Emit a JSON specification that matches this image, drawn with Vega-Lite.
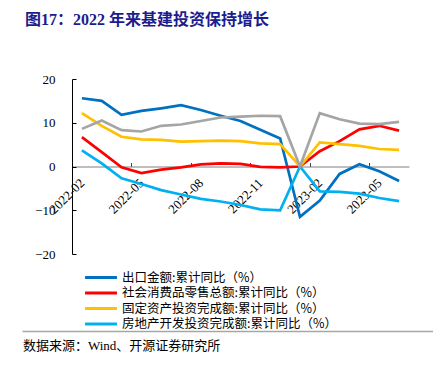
{
  "$schema": "https://vega.github.io/schema/vega-lite/v6.json",
  "background": "white",
  "padding": {"left": 22, "top": 11, "right": 0, "bottom": 0},
  "title": {
    "text": "图17：2022 年来基建投资保持增长",
    "anchor": "start",
    "font": "Liberation Serif, Noto Sans CJK SC",
    "fontSize": 16,
    "fontWeight": "bold",
    "color": "#1c1c8e",
    "dx": 3,
    "offset": 45.4
  },
  "config": {
    "view": {"stroke": null},
    "axis": {"labelFont": "Liberation Serif", "labelFontSize": 13, "labelColor": "#000", "grid": false}
  },
  "spacing": 70,
  "datasets": {
    "macro": [
      {"month": "2022-02", "出口金额:累计同比（%）": 15.6, "社会消费品零售总额:累计同比（%）": 6.7, "固定资产投资完成额:累计同比（%）": 12.2, "房地产开发投资完成额:累计同比（%）": 3.7, "基础设施建设投资:累计同比（%）": 8.6},
      {"month": "2022-03", "出口金额:累计同比（%）": 15.0, "社会消费品零售总额:累计同比（%）": 3.3, "固定资产投资完成额:累计同比（%）": 9.3, "房地产开发投资完成额:累计同比（%）": 0.7, "基础设施建设投资:累计同比（%）": 10.5},
      {"month": "2022-04", "出口金额:累计同比（%）": 11.8, "社会消费品零售总额:累计同比（%）": -0.2, "固定资产投资完成额:累计同比（%）": 6.8, "房地产开发投资完成额:累计同比（%）": -2.7, "基础设施建设投资:累计同比（%）": 8.3},
      {"month": "2022-05", "出口金额:累计同比（%）": 12.7, "社会消费品零售总额:累计同比（%）": -1.5, "固定资产投资完成额:累计同比（%）": 6.2, "房地产开发投资完成额:累计同比（%）": -4.0, "基础设施建设投资:累计同比（%）": 8.0},
      {"month": "2022-06", "出口金额:累计同比（%）": 13.3, "社会消费品零售总额:累计同比（%）": -0.7, "固定资产投资完成额:累计同比（%）": 6.1, "房地产开发投资完成额:累计同比（%）": -5.4, "基础设施建设投资:累计同比（%）": 9.3},
      {"month": "2022-07", "出口金额:累计同比（%）": 14.0, "社会消费品零售总额:累计同比（%）": -0.2, "固定资产投资完成额:累计同比（%）": 5.7, "房地产开发投资完成额:累计同比（%）": -6.4, "基础设施建设投资:累计同比（%）": 9.6},
      {"month": "2022-08", "出口金额:累计同比（%）": 12.9, "社会消费品零售总额:累计同比（%）": 0.5, "固定资产投资完成额:累计同比（%）": 5.8, "房地产开发投资完成额:累计同比（%）": -7.4, "基础设施建设投资:累计同比（%）": 10.4},
      {"month": "2022-09", "出口金额:累计同比（%）": 11.6, "社会消费品零售总额:累计同比（%）": 0.7, "固定资产投资完成额:累计同比（%）": 5.9, "房地产开发投资完成额:累计同比（%）": -8.0, "基础设施建设投资:累计同比（%）": 11.2},
      {"month": "2022-10", "出口金额:累计同比（%）": 10.4, "社会消费品零售总额:累计同比（%）": 0.6, "固定资产投资完成额:累计同比（%）": 5.8, "房地产开发投资完成额:累计同比（%）": -8.8, "基础设施建设投资:累计同比（%）": 11.4},
      {"month": "2022-11", "出口金额:累计同比（%）": 8.4, "社会消费品零售总额:累计同比（%）": -0.1, "固定资产投资完成额:累计同比（%）": 5.3, "房地产开发投资完成额:累计同比（%）": -9.8, "基础设施建设投资:累计同比（%）": 11.6},
      {"month": "2022-12", "出口金额:累计同比（%）": 6.4, "社会消费品零售总额:累计同比（%）": -0.2, "固定资产投资完成额:累计同比（%）": 5.1, "房地产开发投资完成额:累计同比（%）": -10.0, "基础设施建设投资:累计同比（%）": 11.5},
      {"month": "2023-01", "出口金额:累计同比（%）": -11.5, "社会消费品零售总额:累计同比（%）": 0, "固定资产投资完成额:累计同比（%）": 0, "房地产开发投资完成额:累计同比（%）": 0, "基础设施建设投资:累计同比（%）": 0},
      {"month": "2023-02", "出口金额:累计同比（%）": -7.8, "社会消费品零售总额:累计同比（%）": 3.5, "固定资产投资完成额:累计同比（%）": 5.5, "房地产开发投资完成额:累计同比（%）": -5.7, "基础设施建设投资:累计同比（%）": 12.2},
      {"month": "2023-03", "出口金额:累计同比（%）": -1.7, "社会消费品零售总额:累计同比（%）": 5.8, "固定资产投资完成额:累计同比（%）": 5.1, "房地产开发投资完成额:累计同比（%）": -5.8, "基础设施建设投资:累计同比（%）": 10.8},
      {"month": "2023-04", "出口金额:累计同比（%）": 0.5, "社会消费品零售总额:累计同比（%）": 8.5, "固定资产投资完成额:累计同比（%）": 4.7, "房地产开发投资完成额:累计同比（%）": -6.2, "基础设施建设投资:累计同比（%）": 9.8},
      {"month": "2023-05", "出口金额:累计同比（%）": -1.1, "社会消费品零售总额:累计同比（%）": 9.3, "固定资产投资完成额:累计同比（%）": 4.0, "房地产开发投资完成额:累计同比（%）": -7.2, "基础设施建设投资:累计同比（%）": 9.7},
      {"month": "2023-06", "出口金额:累计同比（%）": -3.3, "社会消费品零售总额:累计同比（%）": 8.2, "固定资产投资完成额:累计同比（%）": 3.8, "房地产开发投资完成额:累计同比（%）": -7.9, "基础设施建设投资:累计同比（%）": 10.2}
    ]
  },
  "vconcat": [
    {
      "width": 387,
      "height": 175,
      "data": {"name": "macro"},
      "transform": [
        {"fold": ["出口金额:累计同比（%）", "社会消费品零售总额:累计同比（%）", "固定资产投资完成额:累计同比（%）", "房地产开发投资完成额:累计同比（%）", "基础设施建设投资:累计同比（%）"], "as": ["series", "value"]}
      ],
      "encoding": {
        "x": {
          "field": "month",
          "type": "ordinal",
          "scale": {"type": "point", "range": [50, 387], "padding": 0.5},
          "axis": {
            "values": ["2022-02", "2022-05", "2022-08", "2022-11", "2023-02", "2023-05"],
            "title": null,
            "offset": -87.5,
            "labelAngle": -45,
            "labelAlign": "right",
            "labelBaseline": "middle",
            "labelOverlap": false,
            "labelFlush": false,
            "labelBound": false,
            "domainColor": "#7f7f7f",
            "domainWidth": 1.2,
            "tickColor": "#404040",
            "tickSize": -4,
            "tickWidth": 1,
            "tickOffset": -9.91,
            "labelOffset": 9.91,
            "labelPadding": 18
          }
        },
        "y": {
          "field": "value",
          "type": "quantitative",
          "scale": {"domain": [-20, 20], "nice": false, "zero": false},
          "axis": {
            "values": [-20, -10, 0, 10, 20],
            "title": null,
            "offset": -50,
            "tickSize": -4,
            "tickColor": "#000",
            "domainColor": "#000",
            "domainWidth": 1,
            "labelPadding": 21
          }
        }
      },
      "layer": [
        {
          "transform": [{"filter": "datum.series !== '基础设施建设投资:累计同比（%）'"}],
          "mark": {"type": "line", "strokeWidth": 2.7},
          "encoding": {
            "color": {
              "field": "series",
              "type": "nominal",
              "scale": {
                "domain": ["出口金额:累计同比（%）", "社会消费品零售总额:累计同比（%）", "固定资产投资完成额:累计同比（%）", "房地产开发投资完成额:累计同比（%）"],
                "range": ["#0070C0", "#FF0000", "#FFC000", "#00B0F0"]
              },
              "legend": {
                "orient": "none",
                "legendX": 72,
                "legendY": 191.5,
                "direction": "vertical",
                "title": null,
                "symbolType": "M-2.9,0L2.9,0",
                "symbolSize": 121,
                "symbolStrokeWidth": 3,
                "labelFont": "Noto Sans CJK SC",
                "labelFontSize": 12.5,
                "labelColor": "#000",
                "labelOffset": 14,
                "rowPadding": 1.5,
                "labelLimit": 400
              }
            }
          }
        },
        {
          "transform": [{"filter": "datum.series === '基础设施建设投资:累计同比（%）'"}],
          "mark": {"type": "line", "strokeWidth": 2.7, "color": "#A5A5A5"}
        }
      ]
    },
    {
      "width": 411,
      "height": 1,
      "data": {"values": []},
      "mark": "point",
      "encoding": {
        "x": {
          "field": "sep",
          "type": "quantitative",
          "scale": {"domain": [0, 1]},
          "axis": {
            "orient": "top",
            "title": null,
            "labels": false,
            "ticks": false,
            "grid": false,
            "domainColor": "#a6a6a6",
            "domainWidth": 1.5
          }
        }
      },
      "title": {
        "text": "数据来源：Wind、开源证券研究所",
        "orient": "bottom",
        "anchor": "start",
        "font": "Liberation Serif, Noto Sans CJK SC",
        "fontSize": 13,
        "fontWeight": "normal",
        "color": "#000",
        "offset": 8,
        "dx": 1
      }
    }
  ]
}
